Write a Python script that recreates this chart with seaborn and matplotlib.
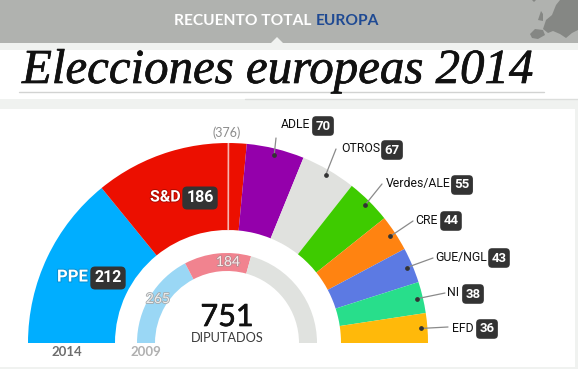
import numpy as np
import matplotlib
matplotlib.use("Agg")
import matplotlib.pyplot as plt
import matplotlib.patheffects as pe
from matplotlib.patches import Rectangle, Polygon
import seaborn as sns

parties = ["PPE", "S&D", "ADLE", "OTROS", "Verdes/ALE", "CRE", "GUE/NGL", "NI", "EFD"]
seats_2014 = [212, 186, 70, 67, 55, 44, 43, 38, 36]
colors_2014 = ["#00AEFF", "#EC0F00", "#9400AB", "#E0E1DE", "#3ECB00",
               "#FF8311", "#5C7AE3", "#28DE8B", "#FFB90A"]
seats_2009 = [265, 184, 317]
colors_2009 = ["#9AD7F5", "#F1838F", "#E0E2DF"]
majority = 376
total = 751

# label positions in picture pixels (text left edge, middle y, badge left edge)
outer_labels = {"ADLE": (281, 125, 316), "OTROS": (341, 149, 385),
                "Verdes/ALE": (386, 184, 455), "CRE": (415, 220, 444),
                "GUE/NGL": (435, 257, 492), "NI": (447, 293, 466),
                "EFD": (452, 328, 480)}
leader_ends = {"ADLE": (276, 138), "OTROS": (336, 149), "Verdes/ALE": (382, 184),
               "CRE": (413, 221), "GUE/NGL": (433, 258), "NI": (445, 293),
               "EFD": (448, 327)}

sns.set_style("white")
plt.rcParams["font.family"] = ["Lato", "DejaVu Sans"]
label_font = ["Roboto", "DejaVu Sans"]

W, H = 578, 369
cx, cy = 228, H - 343
fig = plt.figure(figsize=(W / 100, H / 100), dpi=100)
fig.patch.set_facecolor("#F0F2F0")
ax = fig.add_axes([0, 0, 1, 1])


def py(y):
    return H - y


def at_seats(seats, r):
    a = np.pi - np.pi * seats / total
    return cx + r * np.cos(a), cy + r * np.sin(a)


def outline(color, width=1.4):
    return [pe.withStroke(linewidth=width, foreground=color)]


# hemicycles, with an invisible lower half
w14, _ = ax.pie(seats_2014 + [sum(seats_2014)], colors=colors_2014 + ["none"],
                center=(cx, cy), radius=200, startangle=180, counterclock=False,
                wedgeprops=dict(width=87, linewidth=0, zorder=3))
w14[-1].set_visible(False)
w09, _ = ax.pie(seats_2009 + [sum(seats_2009)], colors=colors_2009 + ["none"],
                center=(cx - 1, cy), radius=90, startangle=180, counterclock=False,
                wedgeprops=dict(width=18, linewidth=0, zorder=3))
w09[-1].set_visible(False)

ax.set_xlim(0, W)
ax.set_ylim(0, H)
ax.set_aspect("equal")
ax.set_position([0, 0, 1, 1])
ax.axis("off")

# page furniture
ax.add_patch(Rectangle((0, py(367)), 575, 258, color="white", lw=0, zorder=1))
ax.add_patch(Rectangle((0, py(43)), W, 43, color="#B0B2AF", lw=0, zorder=1))
ax.add_patch(Rectangle((0, py(99)), W, 49, color="white", lw=0, zorder=1))
ax.add_patch(Rectangle((0, py(50)), 19, 2, color="#F0F2F0", lw=0, zorder=1))
ax.add_patch(Rectangle((544, py(50)), 34, 2, color="#F0F2F0", lw=0, zorder=1))
ax.plot([19, 544], [py(92), py(92)], color="#D2D3D2", lw=1, zorder=2)
ax.plot([245, 578], [py(98.5), py(98.5)], color="#DCDEDC", lw=1, zorder=2)
ax.add_patch(Polygon([(271, py(43)), (277, py(37)), (283, py(43))],
                     color="#F0F2F0", lw=0, zorder=2))

# rough map of Europe in the corner
map_shapes = [
    [(530, 34), (535, 29), (543, 30), (545, 35), (538, 39), (532, 38)],
    [(538, 20), (541, 11), (543, 14), (543, 21)],
    [(543, 29), (546, 20), (552, 15), (556, 5), (560, 0), (578, 0), (578, 30),
     (572, 33), (566, 38), (560, 34), (553, 31), (548, 33)],
    [(532, 0), (536, 0), (534, 2)],
]
for shape in map_shapes:
    ax.add_patch(Polygon([(x, py(y)) for x, y in shape], color="#858784", lw=0, zorder=2))

# header and title
ax.text(174, py(21), "RECUENTO TOTAL", color="white", fontsize=11.2, fontweight="bold",
        va="center", zorder=5)
ax.text(316, py(21), "EUROPA", color="#1F4A93", fontsize=11.2, fontweight="bold",
        va="center", zorder=5)
ax.text(22, py(83), "Elecciones europeas 2014", family="Liberation Serif",
        style="italic", fontsize=35.2, color="#111111", va="baseline", zorder=5,
        path_effects=outline("#111111", 0.5))

# majority mark
x0, y0 = at_seats(majority, 113)
x1, y1 = at_seats(majority, 200)
ax.plot([x0, x1], [y0, y1], color="#F6B5B0", lw=1.2, zorder=4, solid_capstyle="butt")
ax.text(227, py(133), "(%d)" % majority, color="#8C8C8C", fontsize=9, ha="center",
        va="center", zorder=5)

badge = dict(boxstyle="round,pad=0.25,rounding_size=0.3", fc="#333333", ec="none")

# big labels inside the two large wedges
ax.text(57, py(277), parties[0], color="white", fontsize=12, fontweight="bold",
        family=label_font, va="center", zorder=5, path_effects=outline("#0A8FD0"))
ax.text(108, py(278), str(seats_2014[0]), color="white", fontsize=11.5, fontweight="bold",
        family=label_font, ha="center", va="center", bbox=badge, zorder=5)
ax.text(150, py(197), parties[1], color="white", fontsize=11.5, fontweight="bold",
        family=label_font, va="center", zorder=5, path_effects=outline("#B00A00"))
ax.text(200, py(198), str(seats_2014[1]), color="white", fontsize=11.5, fontweight="bold",
        family=label_font, ha="center", va="center", bbox=badge, zorder=5)

# outer labels with their leader lines
cum = np.cumsum([0] + seats_2014)
for i, party in enumerate(parties):
    if party not in outer_labels:
        continue
    tx, ty, bx = outer_labels[party]
    dx, dy = at_seats(cum[i] + seats_2014[i] / 2, 194)
    ex, ey = leader_ends[party]
    ax.plot([dx, ex], [dy, py(ey)], color="#8A8A8A", lw=0.9, zorder=4)
    ax.plot(dx, dy, "o", color="#333333", ms=2.4, zorder=5)
    ax.text(tx, py(ty), party, color="#111111", fontsize=8.8, family=label_font,
            va="center", zorder=5)
    ax.text(bx + 7, py(ty + 1), str(seats_2014[i]), color="white", fontsize=9.5,
            fontweight="bold", family=label_font, ha="center", va="center",
            bbox=badge, zorder=5)

# 2009 ring values
ax.text(158, py(299), str(seats_2009[0]), color="#EDEDED", fontsize=10, ha="center",
        va="center", zorder=5, path_effects=outline("#A5A9AB", 1.2))
ax.text(228, py(262), str(seats_2009[1]), color="#F7ECEC", fontsize=10, ha="center",
        va="center", zorder=5, path_effects=outline("#B98A90", 1.2))

# centre and year captions
ax.text(227, py(317), str(total), color="#111111", fontsize=22, ha="center",
        va="center", zorder=5, path_effects=outline("#111111", 0.5))
ax.text(227, py(338), "DIPUTADOS", color="#3A3A3A", fontsize=9.2, ha="center",
        va="center", zorder=5)
ax.text(67, py(352), "2014", color="#6E6E6E", fontsize=9.5, fontweight="bold", ha="center",
        va="center", zorder=5)
ax.text(146, py(352), "2009", color="#B0B0B0", fontsize=9.5, fontweight="bold", ha="center",
        va="center", zorder=5)

fig.savefig("out.png", dpi=100, facecolor=fig.get_facecolor())
